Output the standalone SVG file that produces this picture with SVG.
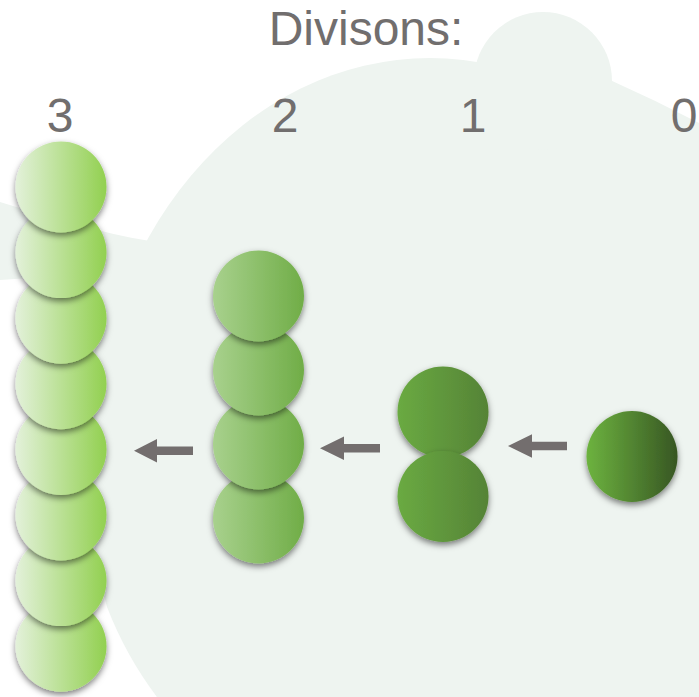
<svg xmlns="http://www.w3.org/2000/svg" width="699" height="697" viewBox="0 0 699 697">
  <style>
    .lbl { font-family: "Liberation Sans", Arial, sans-serif; font-size: 48px; fill: #716e6e; text-anchor: middle; }
    .blob { fill: #eef4f0; }
    .arrow { fill: #736e6e; }
    .c3 { fill: url(#g3); filter: url(#sh); }
    .c2 { fill: url(#g2); filter: url(#sh); }
    .c1 { fill: url(#g1); filter: url(#sh); }
    .c0 { fill: url(#g0); filter: url(#sh); }
  </style>
  <defs>
    <linearGradient id="g3" x1="0" y1="0" x2="1" y2="0">
      <stop offset="0" stop-color="#e3f1da"/>
      <stop offset="1" stop-color="#92d050"/>
    </linearGradient>
    <linearGradient id="g2" x1="0" y1="0" x2="1" y2="0">
      <stop offset="0" stop-color="#a8d18d"/>
      <stop offset="1" stop-color="#70ad47"/>
    </linearGradient>
    <linearGradient id="g1" x1="0" y1="0" x2="1" y2="0">
      <stop offset="0" stop-color="#6aaa42"/>
      <stop offset="1" stop-color="#558336"/>
    </linearGradient>
    <linearGradient id="g0" x1="0" y1="0" x2="1" y2="0">
      <stop offset="0" stop-color="#6db33f"/>
      <stop offset="1" stop-color="#375623"/>
    </linearGradient>
    <filter id="sh" x="-30%" y="-30%" width="160%" height="170%">
      <feDropShadow dx="0" dy="3" stdDeviation="3" flood-color="#000" flood-opacity="0.5"/>
    </filter>
  </defs>

  <rect width="699" height="697" fill="#ffffff"/>

  <g id="background">
    <ellipse class="blob" cx="430" cy="460" rx="338" ry="402"/>
    <circle class="blob" cx="543" cy="81" r="69"/>
    <path class="blob" d="M560,74 L610,80 Q655,100 699,123 L699,697 L560,697 Z"/>
    <path class="blob" d="M0,202 C50,217 100,233 150,241 L200,300 L200,697 L157,697 Q126,656 107,607 L95,560 L95,282 L60,276 L0,280 Z"/>
  </g>

  <g id="title"><text class="lbl" x="366" y="45">Divisons:</text></g>
  <g id="label-3"><text class="lbl" x="60" y="132">3</text></g>
  <g id="label-2"><text class="lbl" x="285" y="132">2</text></g>
  <g id="label-1"><text class="lbl" x="473" y="132">1</text></g>
  <g id="label-0"><text class="lbl" x="684" y="132">0</text></g>

  <g id="connectors">
    <path class="arrow" d="M508,446 L532,434.3 L532,441.8 L567,441.8 L567,450.2 L532,450.2 L532,457.7 Z"/>
    <path class="arrow" d="M320,448.3 L344,436.6 L344,444.1 L380,444.1 L380,452.5 L344,452.5 L344,460 Z"/>
    <path class="arrow" d="M134,450.8 L157,439.1 L157,446.6 L193,446.6 L193,455 L157,455 L157,462.5 Z"/>
  </g>

  <g id="division-3">
    <circle class="c3" cx="61" cy="646.2" r="45.5"/>
    <circle class="c3" cx="61" cy="580.6" r="45.5"/>
    <circle class="c3" cx="61" cy="515" r="45.5"/>
    <circle class="c3" cx="61" cy="449.4" r="45.5"/>
    <circle class="c3" cx="61" cy="383.8" r="45.5"/>
    <circle class="c3" cx="61" cy="318.2" r="45.5"/>
    <circle class="c3" cx="61" cy="252.6" r="45.5"/>
    <circle class="c3" cx="61" cy="187" r="45.5"/>
  </g>

  <g id="division-2">
    <circle class="c2" cx="258.5" cy="518" r="45.5"/>
    <circle class="c2" cx="258.5" cy="444" r="45.5"/>
    <circle class="c2" cx="258.5" cy="370" r="45.5"/>
    <circle class="c2" cx="258.5" cy="296" r="45.5"/>
  </g>

  <g id="division-1">
    <circle class="c1" cx="443" cy="412" r="45.5"/>
    <circle class="c1" cx="443" cy="496.5" r="45.5"/>
  </g>

  <g id="division-0">
    <circle class="c0" cx="632" cy="456.5" r="45.5"/>
  </g>
</svg>
